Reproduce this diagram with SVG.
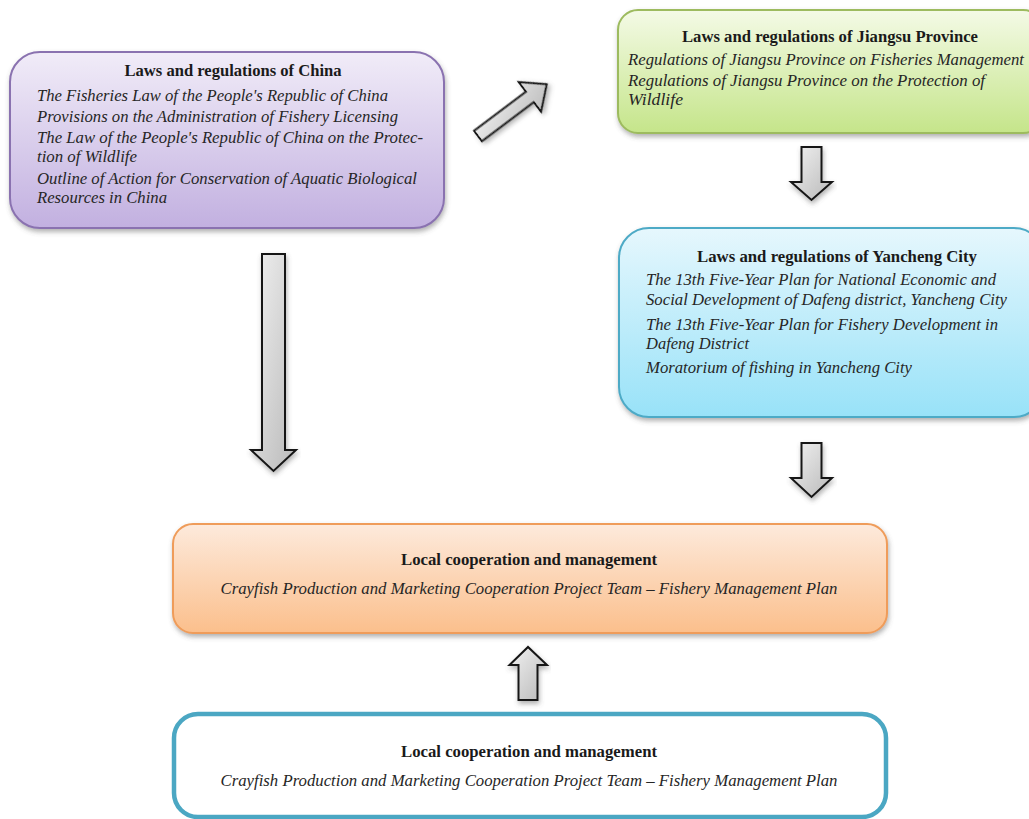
<svg xmlns="http://www.w3.org/2000/svg" width="1029" height="819" viewBox="0 0 1029 819">
  <defs>
    <linearGradient id="gPurple" x1="0" y1="0" x2="0" y2="1">
      <stop offset="0" stop-color="#f1ecf8"/>
      <stop offset="1" stop-color="#c2b0e0"/>
    </linearGradient>
    <linearGradient id="gGreen" x1="0" y1="0" x2="0" y2="1">
      <stop offset="0" stop-color="#f4fae6"/>
      <stop offset="1" stop-color="#c5e58a"/>
    </linearGradient>
    <linearGradient id="gBlue" x1="0" y1="0" x2="0" y2="1">
      <stop offset="0" stop-color="#e6f7fd"/>
      <stop offset="1" stop-color="#98e2f8"/>
    </linearGradient>
    <linearGradient id="gOrange" x1="0" y1="0" x2="0" y2="1">
      <stop offset="0" stop-color="#fdeadc"/>
      <stop offset="1" stop-color="#fbbf8c"/>
    </linearGradient>
    <linearGradient id="gArrow" x1="0" y1="0" x2="1" y2="1">
      <stop offset="0" stop-color="#f2f2f2"/>
      <stop offset="1" stop-color="#b9b9b9"/>
    </linearGradient>
    <filter id="shadow" x="-10%" y="-10%" width="120%" height="130%">
      <feDropShadow dx="1" dy="3" stdDeviation="2.5" flood-color="#555" flood-opacity="0.45"/>
    </filter>
  </defs>
  <style>
    .title { font-family: "Liberation Serif", "Times New Roman", serif; font-weight: bold; font-size: 16px; fill: #1a1a1a; }
    .item { font-family: "Liberation Serif", "Times New Roman", serif; font-style: italic; font-size: 16.5px; fill: #262626; }
    .arrow { fill: url(#gArrow); stroke: #141414; stroke-width: 2; stroke-linejoin: miter; filter: url(#shadow); }
  </style>

  <rect width="1029" height="819" fill="#ffffff"/>

  <!-- national laws -->
  <g id="node-china">
    <rect x="10" y="52" width="434" height="176" rx="30" fill="url(#gPurple)" stroke="#8a72b0" stroke-width="2" filter="url(#shadow)"/>
    <text class="title" x="233" y="76" text-anchor="middle" textLength="217" lengthAdjust="spacingAndGlyphs">Laws and regulations of China</text>
    <text class="item" x="37" y="101" textLength="351" lengthAdjust="spacingAndGlyphs">The Fisheries Law of the People's Republic of China</text>
    <text class="item" x="37" y="122" textLength="361" lengthAdjust="spacingAndGlyphs">Provisions on the Administration of Fishery Licensing</text>
    <text class="item" x="37" y="143" textLength="386" lengthAdjust="spacingAndGlyphs">The Law of the People's Republic of China on the Protec-</text>
    <text class="item" x="37" y="162" textLength="100" lengthAdjust="spacingAndGlyphs">tion of Wildlife</text>
    <text class="item" x="37" y="184" textLength="380" lengthAdjust="spacingAndGlyphs">Outline of Action for Conservation of Aquatic Biological</text>
    <text class="item" x="37" y="203" textLength="130" lengthAdjust="spacingAndGlyphs">Resources in China</text>
  </g>

  <!-- provincial laws -->
  <g id="node-jiangsu">
    <rect x="618" y="10" width="425" height="123" rx="20" fill="url(#gGreen)" stroke="#9dbb5e" stroke-width="2" filter="url(#shadow)"/>
    <text class="title" x="830" y="42" text-anchor="middle" textLength="296" lengthAdjust="spacingAndGlyphs">Laws and regulations of Jiangsu Province</text>
    <text class="item" x="628" y="65" textLength="396" lengthAdjust="spacingAndGlyphs">Regulations of Jiangsu Province on Fisheries Management</text>
    <text class="item" x="628" y="86" textLength="357" lengthAdjust="spacingAndGlyphs">Regulations of Jiangsu Province on the Protection of</text>
    <text class="item" x="628" y="105" textLength="55" lengthAdjust="spacingAndGlyphs">Wildlife</text>
  </g>

  <!-- city plans -->
  <g id="node-yancheng">
    <rect x="619" y="228" width="425" height="189" rx="30" fill="url(#gBlue)" stroke="#4eaac6" stroke-width="2" filter="url(#shadow)"/>
    <text class="title" x="837" y="262" text-anchor="middle" textLength="280" lengthAdjust="spacingAndGlyphs">Laws and regulations of Yancheng City</text>
    <text class="item" x="646" y="285" textLength="350" lengthAdjust="spacingAndGlyphs">The 13th Five-Year Plan for National Economic and</text>
    <text class="item" x="646" y="305" textLength="361" lengthAdjust="spacingAndGlyphs">Social Development of Dafeng district, Yancheng City</text>
    <text class="item" x="646" y="330" textLength="352" lengthAdjust="spacingAndGlyphs">The 13th Five-Year Plan for Fishery Development in</text>
    <text class="item" x="646" y="349" textLength="103" lengthAdjust="spacingAndGlyphs">Dafeng District</text>
    <text class="item" x="646" y="373" textLength="266" lengthAdjust="spacingAndGlyphs">Moratorium of fishing in Yancheng City</text>
  </g>

  <!-- local management -->
  <g id="node-local">
    <rect x="173" y="524" width="714" height="109" rx="20" fill="url(#gOrange)" stroke="#ef9c5a" stroke-width="2" filter="url(#shadow)"/>
    <text class="title" x="529" y="565" text-anchor="middle" textLength="256" lengthAdjust="spacingAndGlyphs">Local cooperation and management</text>
    <text class="item" x="529" y="594" text-anchor="middle" textLength="617" lengthAdjust="spacingAndGlyphs">Crayfish Production and Marketing Cooperation Project Team – Fishery Management Plan</text>
  </g>

  <!-- local management (base) -->
  <g id="node-local-base">
    <rect x="174" y="714" width="712" height="103" rx="24" fill="#ffffff" stroke="#4ba7c3" stroke-width="4.5"/>
    <text class="title" x="529" y="757" text-anchor="middle" textLength="256" lengthAdjust="spacingAndGlyphs">Local cooperation and management</text>
    <text class="item" x="529" y="786" text-anchor="middle" textLength="617" lengthAdjust="spacingAndGlyphs">Crayfish Production and Marketing Cooperation Project Team – Fishery Management Plan</text>
  </g>

  <!-- block arrows -->
  <g id="connectors">
    <polygon class="arrow" transform="translate(478,136) rotate(-37)" points="0,-6.5 65,-6.5 65,-18.5 86,0 65,18.5 65,6.5 0,6.5"/>
    <polygon class="arrow" points="262,254 285,254 285,450 296,450 273.5,471 251,450 262,450"/>
    <polygon class="arrow" points="801.5,147 821.5,147 821.5,182 832,182 811.5,200 791,182 801.5,182"/>
    <polygon class="arrow" points="801.5,443 821.5,443 821.5,478 832,478 811.5,497 791,478 801.5,478"/>
    <polygon class="arrow" points="518.5,700 537.5,700 537.5,665 547,665 528,647 509.5,665 518.5,665"/>
  </g>
</svg>
